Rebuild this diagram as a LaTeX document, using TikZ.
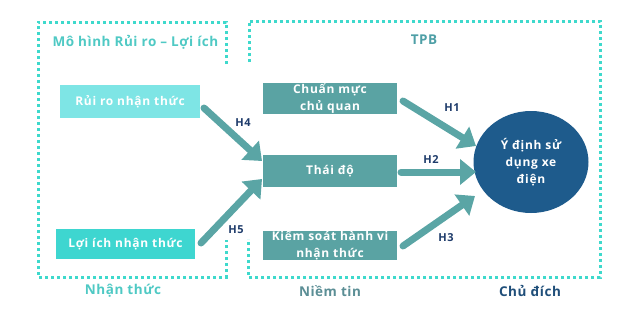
\documentclass[tikz,border=0pt]{standalone}
\usepackage{fontspec}
\setmainfont{Open Sans}
\newfontfamily\nf{Open Sans}[LetterSpace=4]
\newfontfamily\nfw{Open Sans}[LetterSpace=6]
\usetikzlibrary{arrows.meta,shapes.geometric}
\definecolor{dotc}{HTML}{3ED9CC}
\definecolor{lightA}{HTML}{7EE5E5}
\definecolor{lightB}{HTML}{3ED6D0}
\definecolor{tealbox}{HTML}{5AA3A3}
\definecolor{arrc}{HTML}{5AA5A5}
\definecolor{circc}{HTML}{1E5B8C}
\definecolor{navy}{HTML}{1F3C6B}
\definecolor{tpbc}{HTML}{4E9FA6}
\definecolor{niemc}{HTML}{5B8E95}
\definecolor{chuc}{HTML}{1F4E79}
\definecolor{titc}{HTML}{4FC9C4}
\tikzset{
  dotline/.style={draw=dotc, line width=3pt, dash pattern=on 3pt off 3pt},
  boxA/.style={fill=#1, text=white, minimum height=31pt, inner sep=0pt, align=center, font=\nfw\bfseries\fontsize{12}{17}\selectfont},
  harrow/.style={draw=arrc, line width=7pt, line cap=round, -{Triangle[length=16pt,width=25pt]}},
  hlab/.style={text=navy, font=\nf\bfseries\fontsize{11}{12}\selectfont},
  grp/.style={font=\nf\bfseries\fontsize{13.5}{14}\selectfont}
}
\begin{document}
\begin{tikzpicture}[x=1pt,y=-1pt]
\useasboundingbox (0,0) rectangle (624,308);
% dotted frames
\draw[dotline] (226,64) -- (226,22) -- (38,22) -- (38,277) -- (226,277) -- (226,240);
\draw[dotline] (249,62) -- (249,21) -- (600,21) -- (600,277) -- (248,277) -- (248,239);
% group labels
\node[grp, text=titc, anchor=west] (tRR) at (49,42) {Mô hình Rủi ro – Lợi ích};
\node[grp, text=tpbc] (tTPB) at (424,40) {TPB};
\node[grp, text=titc] (tNT) at (123,291) {Nhận thức};
\node[grp, text=niemc] (tNTin) at (330,291) {Niềm tin};
\node[grp, text=chuc] (tCD) at (530,291) {Chủ đích};
% boxes
\node[boxA=lightA, minimum width=140pt, minimum height=33pt] (rr) at (130,101.5) {Rủi ro nhận thức};
\node[boxA=lightB, minimum width=139pt, minimum height=30pt] (li) at (125.5,244) {Lợi ích nhận thức};
\node[boxA=tealbox, minimum width=134pt] (cm) at (330,98.5) {Chuẩn mực\\chủ quan};
\node[boxA=tealbox, minimum width=134pt, minimum height=32pt] (td) at (330,171) {Thái độ};
\node[boxA=tealbox, minimum width=134pt, minimum height=29pt] (ks) at (330,245.5) {Kiểm soát hành vi\\nhận thức};
\node[ellipse, fill=circc, text=white, minimum width=115pt, minimum height=102pt, inner sep=0pt, align=center, font=\nfw\bfseries\fontsize{12}{17}\selectfont] (yd) at (531,162) {Ý định sử\\dụng xe\\điện};
% arrows
\coordinate (h1s) at (403,101);
\coordinate (h1e) at (476,146);
\coordinate (h2s) at (401,172);
\coordinate (h2e) at (476,172);
\coordinate (h3s) at (403,246);
\coordinate (h3e) at (475,196);
\coordinate (h4s) at (204,108);
\coordinate (h4e) at (262,161);
\coordinate (h5s) at (201,243);
\coordinate (h5e) at (262,179);
\draw[harrow] (h1s) -- (h1e);
\draw[harrow] (h2s) -- (h2e);
\draw[harrow] (h3s) -- (h3e);
\draw[harrow] (h4s) -- (h4e);
\draw[harrow] (h5s) -- (h5e);
\node[hlab] (l1) at (452,108) {H1};
\node[hlab] (l2) at (431,160) {H2};
\node[hlab] (l3) at (446,238) {H3};
\node[hlab] (l4) at (243,123) {H4};
\node[hlab] (l5) at (236,230) {H5};
\end{tikzpicture}
\end{document}
